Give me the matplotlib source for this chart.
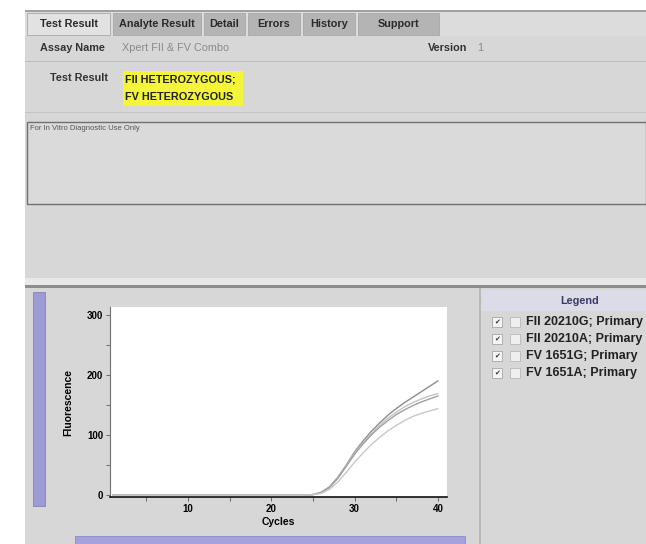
import numpy as np
import matplotlib
matplotlib.use("Agg")
import matplotlib.pyplot as plt
from matplotlib.patches import Rectangle
from matplotlib.ticker import MultipleLocator

# amplification curves (cycles 1..40)
cycles = list(range(1, 41))
fii_g = [0] * 24 + [1, 5, 14, 30, 50, 72, 90, 106, 120, 133, 144, 154, 163, 172, 181, 190]
fii_a = [0] * 24 + [1, 4, 13, 29, 49, 70, 87, 102, 116, 128, 138, 147, 154, 160, 165, 169]
fv_g = [0] * 24 + [1, 4, 13, 28, 48, 68, 85, 100, 113, 124, 134, 142, 149, 155, 160, 165]
fv_a = [0] * 24 + [1, 3, 10, 22, 38, 55, 70, 84, 96, 107, 116, 124, 131, 136, 140, 144]

series_names = ["FII 20210G; Primary", "FII 20210A; Primary",
                "FV 1651G; Primary", "FV 1651A; Primary"]
series_vals = [fii_g, fii_a, fv_g, fv_a]
series_colors = ["#8c8c8c", "#c4c4c4", "#a0a0a0", "#c8c8c8"]

tabs = ["Test Result", "Analyte Result", "Detail", "Errors", "History", "Support"]
result_lines = ["FII HETEROZYGOUS;", "FV HETEROZYGOUS"]

W, H = 646, 544
plt.rcParams['font.family'] = ['Liberation Sans', 'DejaVu Sans']
fig = plt.figure(figsize=(W / 100, H / 100), dpi=100)
fig.patch.set_facecolor("white")


def fx(x):
    return x / W


def fy(y):
    return 1 - y / H


def box(x0, y0, x1, y1, fc, ec="none", lw=0.0, z=1):
    fig.add_artist(Rectangle((fx(x0), fy(y1)), fx(x1 - x0), (y1 - y0) / H,
                             transform=fig.transFigure, facecolor=fc,
                             edgecolor=ec, linewidth=lw, zorder=z))


def text(x, y, s, **kw):
    kw.setdefault("fontsize", 7.8)
    kw.setdefault("va", "center")
    kw.setdefault("zorder", 4)
    fig.text(fx(x), fy(y), s, **kw)


# main panel background
box(25, 10, 646, 544, "#d7d7d7")
box(25, 10, 646, 12, "#a0a0a0")

# tab bar
box(25, 12, 646, 36, "#dcdcdc")
tab_x = [27, 113, 204, 248, 303, 358, 442]
for i, name in enumerate(tabs):
    fc = "#e2e2e2" if i == 0 else "#b4b4b4"
    box(tab_x[i], 13, tab_x[i + 1] - 3, 35, fc, ec="#a8a8a8", lw=0.6, z=2)
    text((tab_x[i] + tab_x[i + 1] - 3) / 2, 24, name, ha="center",
         fontweight="bold", color="#2a2a2a")

# assay name / version row
text(40, 48, "Assay Name", fontweight="bold", color="#333333")
text(122, 48, "Xpert FII & FV Combo", color="#8a8a8a")
text(428, 48, "Version", fontweight="bold", color="#333333")
text(477, 48, "1", color="#8a8a8a")
box(25, 61, 646, 62, "#bdbdbd")

# test result row
text(50, 78, "Test Result", fontweight="bold", color="#333333")
box(123, 71, 243, 106, "#f4f43a", z=2)
text(125, 80, result_lines[0], fontweight="bold", color="#202020")
text(125, 97, result_lines[1], fontweight="bold", color="#202020")
box(25, 112, 646, 113, "#c4c4c4")

# note box
box(27, 122, 646, 204, "#dadada", ec="#707070", lw=1.0, z=2)
text(30, 128, "For In Vitro Diagnostic Use Only", fontsize=5.5, color="#555555")

# splitter
box(25, 278, 646, 285, "#e8e8e8")
box(25, 285, 646, 288, "#8c8c8c")

# lower panel pieces
box(33, 292, 45, 506, "#9d9ad6", ec="#8482c4", lw=0.6)
box(75, 536, 465, 544, "#a4a2dc", ec="#8a88cc", lw=0.6)
box(479, 288, 481, 544, "#b8b8b8")

# legend panel
box(481, 290, 646, 311, "#dcdbe8")
text(580, 301, "Legend", fontweight="bold", ha="center", color="#3a3a6a")
for i, name in enumerate(series_names):
    yy = 322 + i * 17
    box(492, yy - 5, 502, yy + 5, "#f4f4f4", ec="#9a9a9a", lw=0.5, z=2)
    text(497, yy, "\u2714", fontsize=5, ha="center", color="#333333",
         family=["DejaVu Sans"])
    box(510, yy - 5, 520, yy + 5, "#efefef", ec="#b0b0b0", lw=0.5, z=2)
    text(526, yy, name, fontweight="bold", color="#222222", fontsize=9)

# the plot
ax = fig.add_axes([fx(110), fy(497), fx(447 - 110), (497 - 307) / H])
ax.set_zorder(5)
ax.set_facecolor("white")
for vals, col in zip(series_vals, series_colors):
    ax.plot(cycles, vals, color=col, lw=1.0)
ax.set_xlim(0.63, 41.1)
ax.set_ylim(-3, 313)
ax.spines["top"].set_visible(False)
ax.spines["right"].set_visible(False)
ax.spines["left"].set_color("#707070")
ax.spines["bottom"].set_color("#111111")
ax.spines["bottom"].set_linewidth(1.2)
ax.xaxis.set_major_locator(MultipleLocator(10))
ax.xaxis.set_minor_locator(MultipleLocator(5))
ax.yaxis.set_major_locator(MultipleLocator(100))
ax.yaxis.set_minor_locator(MultipleLocator(50))
ax.tick_params(which="both", length=3, width=0.6, color="#555555",
               labelsize=7, pad=2)
for lab in ax.get_xticklabels() + ax.get_yticklabels():
    lab.set_fontweight("bold")
ax.set_xlabel("Cycles", fontsize=7.5, fontweight="bold", labelpad=2)
ax.set_ylabel("Fluorescence", fontsize=7.5, fontweight="bold", labelpad=10)

fig.savefig("out.png", dpi=100)
